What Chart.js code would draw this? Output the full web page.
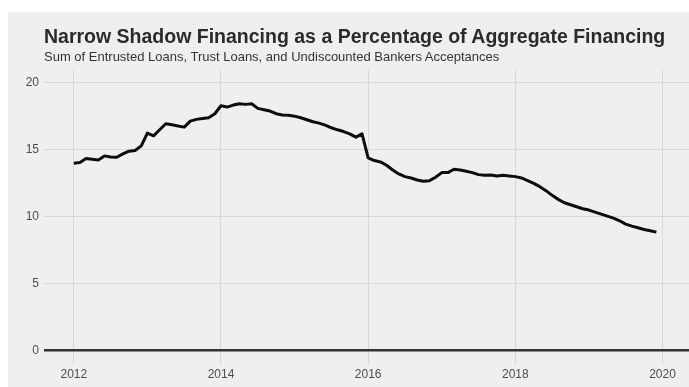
<!DOCTYPE html>
<html>
<head>
<meta charset="utf-8">
<script src="https://cdn.jsdelivr.net/npm/chart.js@4"></script>
<style>
  html, body { margin: 0; padding: 0; background: #ffffff; }
  #panel { position: absolute; left: 8px; top: 12px; width: 681px; height: 375px; background: #efefef; }
  #title { position: absolute; left: 36px; top: 13px; font: bold 19.5px "Liberation Sans", Arial, sans-serif; color: #2a2a2a; white-space: nowrap; }
  #subtitle { position: absolute; left: 36px; top: 37px; font: 13px "Liberation Sans", Arial, sans-serif; color: #333; white-space: nowrap; }
  #wrap { position: absolute; left: 0; top: 0; width: 681px; height: 375px; }
</style>
</head>
<body>
<div id="panel">
  <div id="wrap"><canvas id="chart"></canvas></div>
  <div id="title">Narrow Shadow Financing as a Percentage of Aggregate Financing</div>
  <div id="subtitle">Sum of Entrusted Loans, Trust Loans, and Undiscounted Bankers Acceptances</div>
</div>
<script>
// --- DATA (monthly, % of aggregate financing) ---
const years = [2012, 2013, 2014, 2015, 2016, 2017, 2018, 2019];
const v2012 = [14.0, 14.05, 14.35, 14.3, 14.25, 14.55, 14.47, 14.45, 14.7, 14.9, 14.95, 15.3];
const v2013 = [16.25, 16.05, 16.5, 16.95, 16.88, 16.78, 16.7, 17.15, 17.28, 17.35, 17.4, 17.7];
const v2014 = [18.3, 18.2, 18.35, 18.45, 18.4, 18.45, 18.1, 18.0, 17.9, 17.7, 17.6, 17.58];
const v2015 = [17.52, 17.4, 17.25, 17.1, 17.0, 16.85, 16.65, 16.5, 16.37, 16.2, 15.95, 16.2];
const v2016 = [14.4, 14.2, 14.1, 13.85, 13.5, 13.2, 13.0, 12.9, 12.75, 12.65, 12.7, 12.95];
const v2017 = [13.3, 13.3, 13.55, 13.5, 13.4, 13.3, 13.15, 13.1, 13.12, 13.05, 13.1, 13.05];
const v2018 = [13.0, 12.9, 12.7, 12.5, 12.25, 11.95, 11.6, 11.3, 11.05, 10.9, 10.75, 10.6];
const v2019 = [10.5, 10.35, 10.2, 10.05, 9.9, 9.7, 9.45, 9.3, 9.18, 9.05, 8.95, 8.85];
const yearValues = [v2012, v2013, v2014, v2015, v2016, v2017, v2018, v2019];

const xTicks = [2012, 2014, 2016, 2018, 2020];
const yTicks = [0, 5, 10, 15, 20];

// build {x,y} points (x = decimal year of month)
const points = [];
years.forEach((yr, i) => {
    yearValues[i].forEach((v, m) => points.push({ x: yr + m / 12, y: v }));
});

const tickFont = { family: '"Liberation Sans", Arial, sans-serif', size: 12 };

const ctx = document.getElementById('chart').getContext('2d');
new Chart(ctx, {
    type: 'line',
    data: {
        datasets: [{
            data: points,
            borderColor: '#0d0d0d',
            borderWidth: 3,
            pointRadius: 0,
            tension: 0,
            borderJoinStyle: 'round'
        }]
    },
    options: {
        responsive: true,
        maintainAspectRatio: false,
        animation: false,
        layout: { padding: { left: 0, right: 0, top: 58, bottom: 0 } },
        plugins: { legend: { display: false }, tooltip: { enabled: false } },
        scales: {
            x: {
                type: 'linear',
                min: 2011.595,
                max: 2020.36,
                afterBuildTicks: s => { s.ticks = xTicks.map(v => ({ value: v })); },
                afterFit: s => { s.height = 22; },
                border: { display: false },
                grid: { color: '#d8d8d8', lineWidth: 1, drawTicks: false },
                ticks: { font: tickFont, color: '#4d4d4d', padding: 2, callback: v => String(v) }
            },
            y: {
                min: -1.08,
                max: 20.97,
                afterBuildTicks: s => { s.ticks = yTicks.map(v => ({ value: v })); },
                afterFit: s => { s.width = 36; },
                border: { display: false },
                grid: {
                    color: c => c.tick && c.tick.value === 0 ? '#333333' : '#d8d8d8',
                    lineWidth: c => c.tick && c.tick.value === 0 ? 2.5 : 1,
                    drawTicks: false
                },
                ticks: { font: tickFont, color: '#4d4d4d', padding: 5 }
            }
        }
    }
});
</script>
</body>
</html>
